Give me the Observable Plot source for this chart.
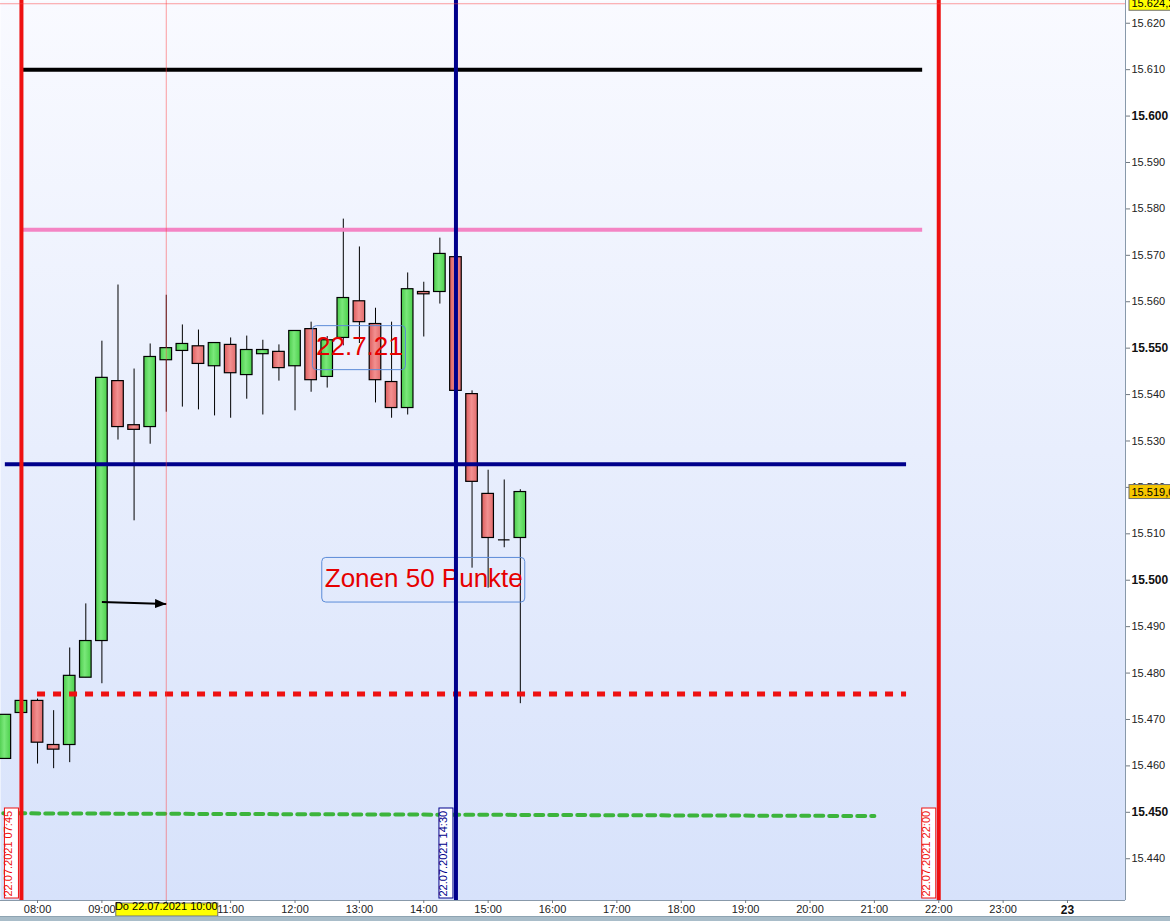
<!DOCTYPE html>
<html><head><meta charset="utf-8">
<script src="https://cdn.jsdelivr.net/npm/d3@7"></script>
<script src="https://cdn.jsdelivr.net/npm/@observablehq/plot@0.6"></script>
<style>
html,body{margin:0;padding:0;background:#fff;overflow:hidden;}
#strip{height:5px;background:#a9bdc9;border-top:1px solid #8ea4b2;box-sizing:border-box;}
</style></head><body><div id="chart"></div><div id="strip"></div>
<script>
// ---------- data ----------
const day = "2021-07-22";
const candleTimes = ["07:30","07:45","08:00","08:15","08:30","08:45","09:00","09:15","09:30","09:45","10:00","10:15","10:30","10:45","11:00","11:15","11:30","11:45","12:00","12:15","12:30","12:45","13:00","13:15","13:30","13:45","14:00","14:15","14:30","14:45","15:00","15:15","15:30"];
const opens  = [15461.5,15471.4,15474.0,15464.5,15464.5,15479.0,15486.9,15542.9,15533.4,15533.0,15547.4,15549.4,15550.4,15546.1,15550.7,15544.2,15548.7,15549.2,15546.1,15554.1,15543.8,15552.2,15560.1,15555.2,15542.7,15537.1,15562.1,15562.1,15569.6,15540.1,15518.6,15508.7,15509.1];
const highs  = [15471.0,15474.0,15474.4,15471.9,15485.4,15494.9,15551.5,15563.6,15545.5,15550.9,15561.4,15555.0,15553.9,15551.1,15552.2,15552.6,15551.7,15550.7,15553.7,15555.6,15552.5,15577.8,15571.8,15558.6,15555.6,15566.2,15564.2,15573.7,15569.6,15540.8,15523.7,15521.6,15519.5];
const lows   = [15461.5,15471.4,15460.4,15459.4,15460.7,15479.0,15477.7,15530.2,15512.8,15529.3,15536.2,15537.3,15536.7,15535.4,15534.9,15539.0,15535.6,15542.9,15536.5,15540.5,15541.4,15550.5,15551.0,15538.2,15534.9,15535.6,15552.4,15559.5,15540.8,15502.6,15498.3,15507.0,15473.4];
const closes = [15471.0,15474.0,15465.0,15463.5,15479.4,15486.9,15543.6,15533.0,15532.4,15548.1,15550.0,15550.9,15546.6,15551.1,15544.6,15549.6,15549.6,15545.7,15553.7,15543.1,15551.7,15560.8,15555.6,15543.1,15537.1,15562.7,15561.6,15570.3,15540.8,15521.2,15509.1,15508.7,15519.0];

// horizontal solid levels
const levelPrices = [15610, 15575.5, 15525];
const levelFrom   = ["07:45","07:45","07:30"];
const levelTo     = ["21:45","21:45","21:30"];
const levelColors = ["#000000","#f484c4","#00008b"];
// dashed levels
const redDashPrice = 15475.5, redDashFrom = "08:00", redDashTo = "21:30";
const greenDashTimes = ["07:15","21:00"];
const greenDashPrices = [15449.8, 15449.2];

// vertical markers
const vTimes  = ["07:45","14:30","22:00"];
const vColors = ["#ee1111","#00008b","#ee1111"];
const vLabels = ["22.07.2021 07:45","22.07.2021 14:30","22.07.2021 22:00"];

// text notes
const noteTimes  = ["13:00","14:00"];
const notePrices = [15550, 15500];
const noteTexts  = ["22.7.21","Zonen 50 Punkte"];

// arrow
const arrowFrom = {t:"09:00", p:15495.3};
const arrowTo   = {t:"10:00", p:15494.9};

// crosshair & price labels
const crossTime = "10:00";
const crossPrice = 15624.2;
const lastPrice = 15519.0;
const crossDateLabel = "Do 22.07.2021 10:00";

// axis ticks
const xTickTimes = ["08:00","09:00","10:00","11:00","12:00","13:00","14:00","15:00","16:00","17:00","18:00","19:00","20:00","21:00","22:00","23:00"];
const nextDayLabel = "23";
const yTicksNormal = [15440,15460,15470,15480,15490,15510,15520,15530,15540,15560,15570,15580,15590,15610,15620];
const yTicksBold = [15450,15500,15550,15600];

// ---------- build ----------
const T = s => new Date(`${day}T${s}:00Z`);
const midnight = new Date("2021-07-23T00:00:00Z");
const loc = d3.formatLocale({decimal:",", thousands:".", grouping:[3], currency:["",""]});
const fmtInt = loc.format(",d");
const fmt1 = loc.format(",.1f");
const half = 5.4 * 60000;

const candles = candleTimes.map((s,i) => {
  const t = T(s);
  return {t, x1: new Date(+t - half), x2: new Date(+t + half), o: opens[i], h: highs[i], l: lows[i], c: closes[i]};
});
const ups = candles.filter(d => d.c > d.o);
const dns = candles.filter(d => d.c < d.o);
const dojis = candles.filter(d => d.c === d.o);

const levels = levelPrices.map((p,i) => ({p, x1: T(levelFrom[i]), x2: T(levelTo[i]), color: levelColors[i]}));
const redDash = [{p: redDashPrice, x1: T(redDashFrom), x2: T(redDashTo)}];
const greenDash = greenDashTimes.map((s,i) => ({t: T(s), p: greenDashPrices[i]}));
const vlines = vTimes.map((s,i) => ({t: T(s), color: vColors[i], label: vLabels[i]}));
const notes = noteTimes.map((s,i) => ({t: T(s), p: notePrices[i], label: noteTexts[i]}));
const arrow = [{x1: T(arrowFrom.t), y1: arrowFrom.p, x2: T(arrowTo.t), y2: arrowTo.p}];
const priceLabels = [{p: crossPrice, fill: "#ffff00"}, {p: lastPrice, fill: "#f6c600"}];
const crossLabel = [{t: T(crossTime), label: crossDateLabel}];

const xDomain = [new Date("2021-07-22T07:25:29Z"), new Date("2021-07-23T00:54:04Z")];
const yDomain = [15431.0, 15624.9];

const svg = Plot.plot({
  width: 1170, height: 916,
  marginLeft: 0, marginRight: 45, marginTop: 0, marginBottom: 16,
  style: {fontFamily: "'Liberation Sans', Arial, sans-serif", fontSize: "11px", color: "#222", background: "white"},
  x: {type: "utc", domain: xDomain, label: null},
  y: {domain: yDomain, label: null},
  marks: [
    Plot.frame({fill: "url(#bgGrad)", stroke: "none"}),
    // candles
    Plot.ruleX(candles, {x: "t", y1: "l", y2: "h", stroke: "#000", strokeWidth: 1}),
    Plot.rect(ups, {x1: "x1", x2: "x2", y1: "o", y2: "c", fill: "url(#gUp)", stroke: "#000", strokeWidth: 1.2}),
    Plot.rect(dns, {x1: "x1", x2: "x2", y1: "o", y2: "c", fill: "url(#gDn)", stroke: "#000", strokeWidth: 1.2}),
    Plot.ruleY(dojis, {y: "o", x1: "x1", x2: "x2", stroke: "#000", strokeWidth: 1.2}),
    // note boxes and texts
    Plot.rect(notes.slice(0,1), {x1: "t", x2: "t", y1: "p", y2: "p", insetLeft: -46.5, insetRight: -46.5, insetTop: -22, insetBottom: -22, rx: 4, fill: "none", stroke: "#5b8bd8", strokeWidth: 1}),
    Plot.rect(notes.slice(1,2), {x1: "t", x2: "t", y1: "p", y2: "p", insetLeft: -101.5, insetRight: -101.5, insetTop: -22.3, insetBottom: -22.3, rx: 4, fill: "none", stroke: "#5b8bd8", strokeWidth: 1}),
    Plot.text(notes, {x: "t", y: "p", text: "label", fill: "#e60000", fontSize: 26, dy: -1.5}),
    // level lines
    Plot.ruleY(levels, {y: "p", x1: "x1", x2: "x2", stroke: "color", strokeWidth: 4}),
    Plot.ruleY(redDash, {y: "p", x1: "x1", x2: "x2", stroke: "#ee1111", strokeWidth: 5, strokeDasharray: "8,8"}),
    Plot.line(greenDash, {x: "t", y: "p", stroke: "#3cb43c", strokeWidth: 4, strokeDasharray: "8,6", clip: true}),
    // verticals
    Plot.ruleX(vlines, {x: "t", stroke: "color", strokeWidth: 4}),
    Plot.rect(vlines, {x1: "t", x2: "t", insetLeft: -16.5, insetRight: 2.5, insetTop: 808, insetBottom: 2, fill: "white", stroke: "color", strokeWidth: 1}),
    Plot.text(vlines, {x: "t", frameAnchor: "bottom", text: "label", rotate: -90, textAnchor: "start", dx: -9, dy: -4, fill: "color", fontSize: 11}),
    // arrow
    Plot.link(arrow, {x1: "x1", y1: "y1", x2: "x2", y2: "y2", stroke: "#000", strokeWidth: 2}),
    // crosshair
    Plot.ruleX([T(crossTime)], {stroke: "#ff4040", strokeOpacity: 0.5, strokeWidth: 1}),
    Plot.ruleY([crossPrice], {stroke: "#ff4040", strokeOpacity: 0.5, strokeWidth: 1}),
    // axis lines
    Plot.ruleY([yDomain[0]], {stroke: "#8899aa", strokeWidth: 1}),
    Plot.ruleX([xDomain[1]], {stroke: "#8899aa", strokeWidth: 1}),
    // axes
    Plot.axisY({anchor: "right", ticks: yTicksNormal, tickFormat: fmtInt, tickSize: 4, tickPadding: 2, fontSize: 11, stroke: "#707880", fill: "#222", label: null}),
    Plot.axisY({anchor: "right", ticks: yTicksBold, tickFormat: fmtInt, tickSize: 4, tickPadding: 2, fontSize: 12, fontWeight: "bold", stroke: "#707880", fill: "#111", label: null}),
    Plot.axisX({anchor: "bottom", ticks: xTickTimes.map(T), tickFormat: d3.utcFormat("%H:%M"), tickSize: 3, tickPadding: 2, fontSize: 11, stroke: "#707880", fill: "#222", label: null}),
    Plot.axisX({anchor: "bottom", ticks: [midnight], tickFormat: () => nextDayLabel, tickSize: 3, tickPadding: 2, fontSize: 12, fontWeight: "bold", stroke: "#707880", fill: "#111", label: null}),
    // price labels on right axis
    Plot.rect(priceLabels, {y1: "p", y2: "p", insetLeft: 1129, insetRight: -50, insetTop: -7, insetBottom: -7, fill: "fill", stroke: "#707070", strokeWidth: 1}),
    Plot.text(priceLabels, {y: "p", text: d => fmt1(d.p), frameAnchor: "right", textAnchor: "start", dx: 6, fontSize: 11, fill: "#000"}),
    // crosshair date label on x axis
    Plot.rect(crossLabel, {x1: "t", x2: "t", insetLeft: -50, insetRight: -52, insetTop: 903, insetBottom: -16, fill: "#ffff00", stroke: "#707070", strokeWidth: 1}),
    Plot.text(crossLabel, {x: "t", frameAnchor: "bottom", dy: 9.5, text: "label", fontSize: 11, fill: "#000"})
  ]
});

// gradients and arrow head
const defs = d3.select(svg).insert("defs", ":first-child");
const bg = defs.append("linearGradient").attr("id", "bgGrad").attr("x1", 0).attr("y1", 0).attr("x2", 0).attr("y2", 1);
bg.append("stop").attr("offset", "0%").attr("stop-color", "#f9faff");
bg.append("stop").attr("offset", "100%").attr("stop-color", "#d7e2fb");
const gu = defs.append("linearGradient").attr("id", "gUp").attr("x1", 0).attr("y1", 0).attr("x2", 1).attr("y2", 0);
gu.append("stop").attr("offset", "0%").attr("stop-color", "#4ccc4c");
gu.append("stop").attr("offset", "45%").attr("stop-color", "#7ae87a");
gu.append("stop").attr("offset", "100%").attr("stop-color", "#4cd04c");
const gd = defs.append("linearGradient").attr("id", "gDn").attr("x1", 0).attr("y1", 0).attr("x2", 1).attr("y2", 0);
gd.append("stop").attr("offset", "0%").attr("stop-color", "#dd5e5e");
gd.append("stop").attr("offset", "50%").attr("stop-color", "#f29090");
gd.append("stop").attr("offset", "100%").attr("stop-color", "#e26c6c");
defs.append("marker").attr("id", "ah").attr("viewBox", "0 0 10 8")
  .attr("markerUnits", "userSpaceOnUse").attr("markerWidth", 12).attr("markerHeight", 9)
  .attr("refX", 10).attr("refY", 4).attr("orient", "auto")
  .append("path").attr("d", "M0,0L10,4L0,8Z").attr("fill", "#000");
d3.select(svg).selectAll('g[aria-label="link"] path').attr("marker-end", "url(#ah)");

document.getElementById("chart").appendChild(svg);
</script>
</body></html>
